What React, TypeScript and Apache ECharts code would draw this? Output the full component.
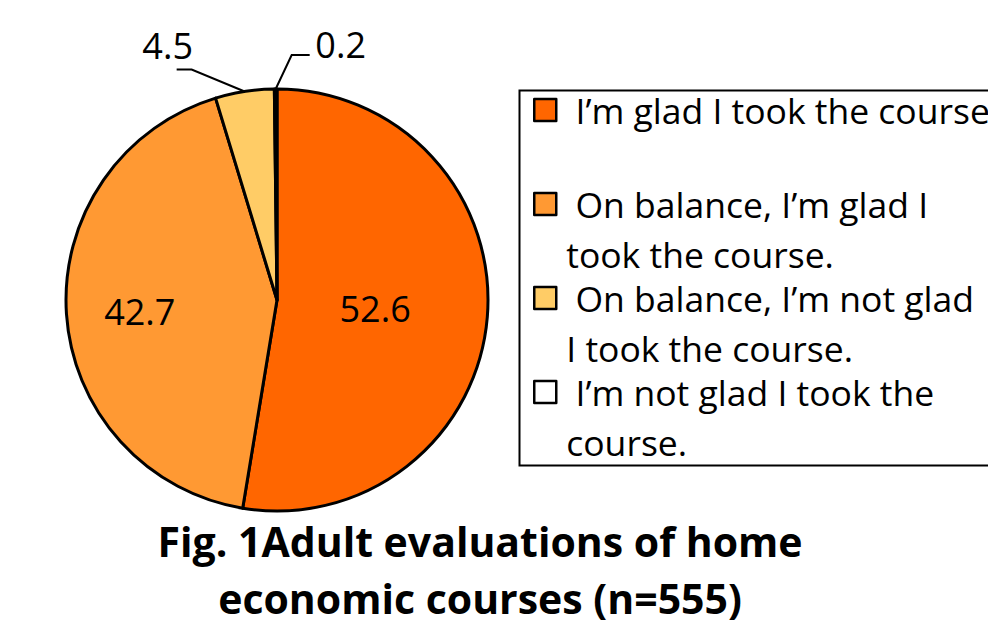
import React, { useEffect, useRef } from "react";
import * as echarts from "echarts";

const categories = [
  "I’m glad I took the course",
  "On balance, I’m glad I took the course.",
  "On balance, I’m not glad I took the course.",
  "I’m not glad I took the course.",
];
const legendLines = [
  ["I’m glad I took the course", ""],
  ["On balance, I’m glad I", "took the course."],
  ["On balance, I’m not glad", "I took the course."],
  ["I’m not glad I took the", "course."],
];
const values = [52.6, 42.7, 4.5, 0.2];
const colors = ["#FF6600", "#FF9933", "#FFCC66", "#FFFFFF"];
const titleText = "Fig. 1Adult evaluations of home\neconomic courses (n=555)";

const FONT = "'Open Sans', sans-serif";
const LH = 50;
const STRIDE = 94;

export default function App() {
  const ref = useRef<HTMLDivElement>(null);
  useEffect(() => {
    if (!ref.current) return;
    const chart = echarts.init(ref.current, null, { renderer: "svg" });
    const option: any = {
      animation: false,
      backgroundColor: "#ffffff",
      title: {
        text: titleText,
        left: 480,
        top: 512,
        padding: 0,
        textAlign: "center",
        textStyle: {
          fontFamily: FONT,
          fontWeight: "bold",
          fontSize: 41,
          lineHeight: 57,
          color: "#000",
        },
      },
      legend: {
        orient: "vertical",
        left: 533,
        top: 110 - 1.5 * LH,
        padding: 0,
        itemWidth: 22,
        itemHeight: 22,
        itemGap: STRIDE - 3 * LH,
        icon: "rect",
        selectedMode: false,
        itemStyle: { borderColor: "#000", borderWidth: 2.5 },
        formatter: (name: string) => {
          const i = categories.indexOf(name);
          const l = legendLines[i];
          return "\n " + l[0] + "\n" + l[1];
        },
        textStyle: {
          fontFamily: FONT,
          fontSize: 35.5,
          lineHeight: LH,
          color: "#000",
          padding: [0, 0, 0, 5],
        },
        data: categories,
      },
      graphic: [
        {
          type: "rect",
          left: 517,
          top: 88,
          shape: { width: 520, height: 375 },
          style: { fill: "none", stroke: "#000", lineWidth: 2 },
          z: -1,
        },
      ],
      series: [
        {
          type: "pie",
          center: [277, 300],
          radius: 211,
          startAngle: 90,
          clockwise: true,
          avoidLabelOverlap: false,
          itemStyle: { borderColor: "#000", borderWidth: 3 },
          label: {
            show: true,
            fontFamily: FONT,
            fontSize: 36,
            color: "#000",
            formatter: (p: any) => p.value.toFixed(1),
          },
          labelLine: { show: true, lineStyle: { color: "#000", width: 2 } },
          labelLayout: (params: any) => {
            const i = params.dataIndex;
            if (i === 0) return { dx: -10, dy: 0 };
            if (i === 1) return { dx: -29, dy: 4 };
            const p0 = params.labelLinePoints ? params.labelLinePoints[0] : [0, 0];
            if (i === 2) {
              return {
                x: p0[0] - 77,
                y: p0[1] - 46,
                align: "center",
                verticalAlign: "middle",
                labelLinePoints: [
                  [p0[0], p0[1]],
                  [p0[0] - 53, p0[1] - 22],
                  [p0[0] - 68, p0[1] - 22],
                ],
              };
            }
            return {
              x: p0[0] + 65,
              y: p0[1] - 45,
              align: "center",
              verticalAlign: "middle",
              labelLinePoints: [
                [p0[0], p0[1]],
                [p0[0] + 16, p0[1] - 34],
                [p0[0] + 34, p0[1] - 34],
              ],
            };
          },
          data: categories.map((name, i) => ({
            name,
            value: values[i],
            itemStyle: { color: colors[i] },
            label: { position: i < 2 ? "inside" : "outside" },
            labelLine: { show: i >= 2 },
          })),
        },
      ],
    };
    chart.setOption(option);
    return () => chart.dispose();
  }, []);
  return <div ref={ref} style={{ width: 996, height: 632, margin: -8 }} />;
}
